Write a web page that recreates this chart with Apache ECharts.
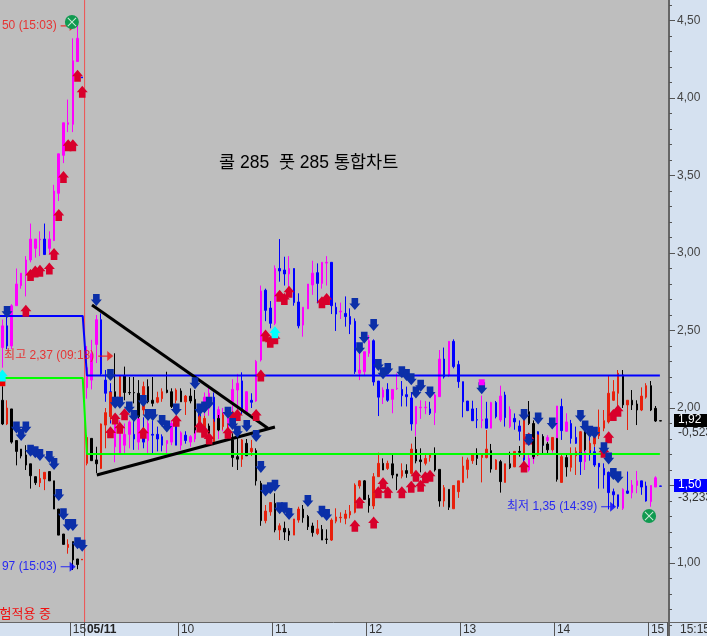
<!DOCTYPE html>
<html><head><meta charset="utf-8">
<style>html,body{margin:0;padding:0;background:#d5e1f0;overflow:hidden}#c{width:707px;height:636px}</style>
<script src="https://cdn.jsdelivr.net/npm/echarts@6/dist/echarts.min.js"></script>
</head><body><div id="c"></div>
<script>
// [open, close, low, high]
const callCandles=[[2.39,2.53,2.26,2.57],[2.53,2.40,2.38,2.60],[2.40,2.66,2.38,2.67],[2.66,2.80,2.66,2.90],[2.79,2.87,2.77,2.87],[2.86,2.955,2.72,2.98],[2.955,3.09,2.94,3.19],[3.03,3.09,2.97,3.09],[3.085,3.09,2.98,3.14],[3.09,2.99,2.99,3.19],[3.03,3.09,2.99,3.14],[3.08,3.40,3.08,3.44],[3.385,3.64,3.335,3.64],[3.63,3.84,3.58,3.84],[3.83,3.84,3.78,3.99],[3.83,4.24,3.78,4.385],[4.235,4.385,4.235,4.47],[4.135,4.13,4.13,4.135],
[2.13,2.26,2.06,2.40],[2.18,2.35,2.12,2.44],[2.41,2.57,2.29,2.60],[2.57,2.22,2.21,2.61],[2.18,2.095,2.04,2.245],[2.105,1.955,1.90,2.16],[1.75,1.92,1.65,1.93],[1.71,1.88,1.70,1.92],[1.76,1.83,1.71,1.90],[1.83,1.91,1.74,1.92],[1.83,1.80,1.73,1.92],[1.78,1.93,1.73,1.94],[1.84,1.78,1.74,1.94],[1.79,1.90,1.71,1.92],[1.83,1.825,1.70,1.92],[1.83,1.80,1.72,1.88],[1.815,1.76,1.72,1.83],[1.77,1.79,1.70,1.79],[1.78,1.90,1.76,1.92],[1.885,1.76,1.76,1.92],[1.76,1.84,1.73,1.85],[1.825,1.79,1.77,1.85],[1.78,1.815,1.75,1.825],[1.80,1.90,1.78,1.95],[1.98,1.90,1.86,2.02],[1.99,2.07,1.93,2.10],[2.03,2.095,1.95,2.14],[2.07,1.86,1.80,2.10],[1.86,1.99,1.80,2.01],[1.92,1.97,1.85,2.00],[1.87,1.94,1.82,1.98],
[2.04,2.12,1.98,2.185],[2.116,2.16,1.97,2.22],[2.175,1.99,1.96,2.23],[1.976,2.105,1.97,2.11],[2.05,2.037,2.0,2.095],[2.045,2.30,2.04,2.31],[2.31,2.755,2.30,2.79],[2.76,2.63,2.56,2.77],[2.645,2.546,2.514,2.69],[2.546,2.90,2.535,2.92],[2.90,2.884,2.815,3.09],[2.89,2.865,2.79,2.976],[2.865,2.90,2.78,2.98],[2.90,2.68,2.66,2.90],[2.684,2.53,2.514,2.74],[2.535,2.65,2.46,2.65],[2.64,2.80,2.64,2.80],[2.794,2.87,2.73,2.95],[2.873,2.804,2.675,2.933],[2.804,2.94,2.77,2.94],[2.935,2.94,2.79,2.98],[2.94,2.66,2.606,2.94],[2.65,2.606,2.497,2.68],[2.62,2.625,2.574,2.68],[2.61,2.59,2.525,2.72],[2.59,2.54,2.477,2.643],[2.56,2.234,2.22,2.578],[2.224,2.245,2.18,2.353],[2.234,2.363,2.206,2.363],[2.353,2.434,2.33,2.47],[2.434,2.168,2.144,2.443],[2.174,2.07,1.948,2.174],[2.07,2.116,2.026,2.133],[2.12,2.05,2.04,2.16],[2.056,2.12,1.966,2.12],[2.125,2.127,2.116,2.224],[2.12,2.08,2.01,2.174],[2.086,2.073,2.01,2.138],[2.065,1.897,1.854,2.10],[1.897,2.01,1.82,2.01],[2.002,2.005,1.93,2.05],[2.002,2.005,1.96,2.045],[1.994,1.966,1.955,2.04],[1.97,2.084,1.89,2.095],[2.073,2.316,2.073,2.374],[2.316,2.20,2.19,2.39],[2.21,2.43,2.20,2.43],[2.43,2.267,2.256,2.443],[2.28,2.17,2.13,2.305],[2.17,2.04,1.94,2.17],[2.045,1.983,1.98,2.045],
[1.994,1.918,1.916,2.047],[1.925,1.922,1.87,2.00],[1.92,1.925,1.87,2.08],[1.93,1.87,1.87,2.04],[1.87,2.035,1.87,2.04],[2.035,1.944,1.933,2.045],[1.923,2.077,1.91,2.144],[2.084,1.938,1.88,2.105],[1.88,1.99,1.87,2.01],[1.933,1.91,1.86,1.965],[1.884,1.85,1.79,1.92],[1.71,1.665,1.61,1.75],[1.60,1.675,1.59,1.70],[1.675,1.70,1.64,1.73],[1.847,1.70,1.69,1.85],[1.815,1.76,1.72,1.83],[1.79,1.81,1.72,1.825],[1.74,1.77,1.71,1.80],[1.804,2.013,1.71,2.013],[2.01,1.854,1.794,2.06],[1.85,1.91,1.847,1.966],[1.90,1.804,1.77,1.923],[1.81,1.772,1.768,1.88],[1.718,1.654,1.568,1.72],[1.654,1.718,1.60,1.76],[1.73,1.707,1.66,1.815],[1.718,1.632,1.62,1.75],[1.643,1.62,1.48,1.643],[1.61,1.568,1.48,1.643],[1.585,1.454,1.346,1.59],[1.46,1.44,1.363,1.48],[1.44,1.365,1.35,1.44],[1.353,1.475,1.342,1.482],[1.465,1.45,1.445,1.59],[1.454,1.503,1.417,1.535],[1.50,1.53,1.45,1.594],[1.53,1.49,1.44,1.53],[1.497,1.40,1.396,1.525],[1.396,1.50,1.363,1.50],[1.49,1.55,1.49,1.56],[1.497,1.495,1.495,1.497],'-'];

const putCandles=[[2.05,1.897,1.89,2.14],[1.897,2.0,1.89,2.05],[1.994,1.78,1.77,1.994],[1.79,1.72,1.63,1.79],[1.735,1.69,1.675,1.735],[1.697,1.632,1.60,1.76],[1.64,1.563,1.48,1.64],[1.557,1.518,1.503,1.557],[1.518,1.546,1.49,1.606],[1.542,1.585,1.47,1.585],[1.59,1.53,1.53,1.59],[1.53,1.348,1.348,1.53],[1.348,1.18,1.18,1.348],[1.187,1.12,1.12,1.187],[1.10,1.12,1.06,1.153],[1.138,1.02,0.955,1.138],[1.026,0.99,0.96,1.026],[1.02,1.024,1.02,1.024],
[1.643,1.81,1.63,1.825],[1.804,1.66,1.66,1.804],[1.665,1.64,1.58,1.75],[1.61,1.897,1.606,1.90],[1.89,1.97,1.74,2.0],[1.944,2.10,1.92,2.10],[2.105,2.06,2.01,2.353],[2.06,2.206,2.06,2.206],[2.206,2.10,2.05,2.267],[2.10,2.098,2.084,2.20],[2.10,2.098,2.03,2.20],[2.095,1.944,1.933,2.18],[1.987,2.138,1.955,2.17],[2.138,2.04,2.03,2.185],[2.05,2.03,2.01,2.20],[2.037,2.067,2.03,2.105],[2.06,2.105,2.04,2.127],[2.116,2.10,2.095,2.234],[2.105,2.01,2.0,2.127],[2.05,2.116,2.03,2.127],[2.11,2.04,2.04,2.127],[2.04,2.077,1.955,2.084],[2.077,2.045,2.03,2.127],[2.056,1.858,1.836,2.116],[1.88,1.944,1.86,1.96],[1.836,1.933,1.82,1.95],[1.884,1.826,1.80,1.90],[1.783,1.91,1.76,1.93],[1.933,1.858,1.85,1.955],[1.88,1.955,1.86,1.97],[1.836,1.858,1.80,1.90],
[1.794,1.68,1.62,1.837],[1.686,1.67,1.60,1.837],[1.67,1.794,1.62,1.80],[1.772,1.692,1.69,1.80],[1.718,1.74,1.69,1.794],[1.725,1.53,1.50,1.74],[1.514,1.273,1.24,1.53],[1.273,1.335,1.256,1.374],[1.33,1.39,1.305,1.39],[1.385,1.213,1.198,1.45],[1.213,1.24,1.148,1.256],[1.224,1.20,1.148,1.267],[1.206,1.18,1.142,1.224],[1.18,1.284,1.18,1.284],[1.277,1.348,1.26,1.363],[1.348,1.292,1.26,1.374],[1.30,1.234,1.213,1.31],[1.239,1.196,1.17,1.26],[1.19,1.22,1.18,1.277],[1.217,1.148,1.148,1.245],[1.155,1.152,1.123,1.217],[1.148,1.277,1.142,1.288],[1.27,1.297,1.256,1.353],[1.292,1.295,1.26,1.327],[1.288,1.316,1.25,1.342],[1.31,1.333,1.288,1.374],[1.327,1.503,1.32,1.514],[1.497,1.53,1.48,1.535],[1.53,1.41,1.41,1.535],[1.417,1.37,1.325,1.44],[1.368,1.557,1.348,1.58],[1.557,1.643,1.557,1.712],[1.643,1.60,1.60,1.675],[1.61,1.643,1.60,1.66],[1.64,1.568,1.546,1.70],[1.574,1.56,1.47,1.574],[1.56,1.596,1.546,1.643],[1.596,1.578,1.55,1.637],[1.578,1.735,1.57,1.77],[1.733,1.658,1.643,1.815],[1.665,1.654,1.585,1.74],[1.643,1.675,1.63,1.70],[1.68,1.697,1.654,1.70],[1.697,1.60,1.59,1.746],[1.604,1.40,1.363,1.604],[1.40,1.486,1.363,1.503],[1.475,1.36,1.342,1.475],[1.35,1.50,1.35,1.50],[1.46,1.53,1.42,1.53],[1.52,1.626,1.52,1.686],[1.604,1.665,1.546,1.68],
[1.66,1.697,1.64,1.70],[1.697,1.675,1.632,1.74],[1.68,1.70,1.52,1.707],[1.68,1.735,1.675,1.858],[1.725,1.606,1.583,1.768],[1.604,1.665,1.60,1.67],[1.654,1.525,1.454,1.665],[1.52,1.64,1.52,1.64],[1.64,1.615,1.606,1.718],[1.62,1.72,1.62,1.72],[1.72,1.714,1.686,1.755],[1.707,1.923,1.68,1.987],[1.976,1.90,1.89,2.045],[1.90,1.686,1.67,1.92],[1.697,1.826,1.69,1.83],[1.815,1.76,1.707,1.83],[1.768,1.73,1.707,1.78],[1.73,1.81,1.72,1.81],[1.804,1.54,1.525,1.804],[1.52,1.686,1.52,1.70],[1.68,1.62,1.557,1.697],[1.617,1.697,1.59,1.746],[1.692,1.72,1.568,1.746],[1.718,1.847,1.71,1.85],[1.85,1.73,1.72,1.88],[1.73,1.772,1.70,1.79],[1.768,1.815,1.75,1.83],[1.82,1.875,1.80,1.99],[1.87,1.918,1.85,1.987],[1.91,2.095,1.90,2.21],[2.05,2.105,2.045,2.18],[2.095,2.224,2.013,2.245],[2.213,2.02,2.0,2.245],[2.02,2.05,1.858,2.05],[2.05,2.02,1.987,2.116],[2.026,1.987,1.89,2.05],[1.987,2.077,1.98,2.133],[2.07,2.144,2.06,2.16],[2.144,1.987,1.98,2.174],[1.998,1.916,1.91,2.013],[1.918,1.916,1.916,1.918],'-'];

// [bar index, price]
const upArrows=[[5,2.628],[6,2.858],[7,2.88],[8,2.886],[10,2.90],[11,2.994],[12,3.245],[13,3.49],[14,3.695],[15,3.695],[16,4.144],[17,4.04],
[23,1.843],[24,1.933],[25,1.873],[26,1.96],[30,1.841],[37,1.918],[42,1.88],[43,1.847],[44,1.804],[48,1.841],[49,1.944],[50,1.955],[54,1.955],[55,2.209],[56,2.467],[57,2.428],[58,2.45],[59,2.725],[60,2.703],[61,2.75],[68,2.682],[69,2.703],
[75,1.24],[76,1.391],[79,1.262],[80,1.456],[81,1.514],[82,1.456],[85,1.456],[87,1.492],[88,1.563],[89,1.499],[90,1.553],[91,1.563],
[111,1.622],[112,1.804],[128,1.718],[129,1.811],[130,1.955],[131,1.983]];
const downArrows=[[1,2.62],[20,2.697],[3,1.875],[5,1.875],[4,1.826],[6,1.725],[7,1.714],[8,1.697],[10,1.684],[11,1.639],[12,1.439],[13,1.314],[14,1.245],[15,1.245],[16,1.127],[17,1.112],
[23,2.213],[24,2.034],[25,2.034],[27,2.004],[28,1.948],[30,2.045],[31,1.955],[32,1.955],[34,1.916],[35,1.88],[37,1.99],[41,2.16],[42,1.99],[43,2.004],[44,2.034],[48,1.97],[49,1.897],[50,1.847],[52,1.884],[54,1.82],[55,1.62],[56,1.467],[57,1.482],[58,1.499],[59,1.353],[60,1.353],[61,1.316],[65,1.40],[68,1.331],[69,1.31],
[75,2.671],[76,2.385],[77,2.454],[79,2.535],[80,2.277],[81,2.224],[82,2.252],[85,2.23],[86,2.213],[87,2.185],[88,2.10],[89,2.144],[91,2.10],
[102,2.127],[111,1.955],[112,1.794],[114,1.933],[117,1.90],[123,1.948],[124,1.88],[125,1.847],[126,1.841],[128,1.74],[129,1.675],[130,1.574],[131,1.553]];
const cyanArrows=[[0,2.209],[58,2.488]];
const redSquares=[[0,2.16]];
const pinkSquares=[[102,2.166]];
const greenMarks=[[15.3,4.49],[138.1,1.303]];

const blueLevel=[[0,2.594],[17.6,2.594],[18.5,2.21],[140.4,2.21]];
const greenLevel=[[0,2.194],[17.6,2.194],[18.5,1.703],[140.4,1.703]];
const trendUpper=[[19.57,2.665],[57.0,1.87]];
const trendLower=[[20.6,1.568],[58.5,1.877]];
const dayStart=18;

const redNotes=[{i:14,v:4.465,text:'50 (15:03)'},{i:22,v:2.335,text:'최고 2,37 (09:18)'}];
const blueNotes=[{i:14,v:0.976,text:'97 (15:03)'},{i:129,v:1.363,text:'최저 1,35 (14:39)'}];

const timeLabels={15:'15',18:'05/11',38:'10',58:'11',78:'12',98:'13',118:'14',138:'15'};
const chartTitle='콜 285  풋 285 통합차트';

const categories=callCandles.map((_,i)=>String(i));
const FONT='"Liberation Sans","Noto Sans CJK KR",sans-serif';
const YMIN=0.619,YMAX=4.632;
const UP='path://M5 0L10 6L8 6L8 11L2 11L2 6L0 6Z';
const DOWN='path://M2 0L8 0L8 5L10 5L5 11L0 5L2 5Z';
const RIGHT='path://M0 5.3L9 5.3L9 0L15 6L9 12L9 6.7L0 6.7Z';
const X='path://M0 1L1 0L6 5L11 0L12 1L7 6L12 11L11 12L6 7L1 12L0 11L5 6Z';

const scatter=(name,data,symbol,size,color,z)=>({name,type:'scatter',data,symbol,symbolSize:size,itemStyle:{color,opacity:1},z,silent:true,clip:false});
const note=(name,items,color)=>({name,type:'scatter',symbol:RIGHT,symbolSize:[15,10],itemStyle:{color},z:7,silent:true,
  data:items.map(n=>({value:[n.i,n.v],label:{show:true,position:'left',distance:4,formatter:n.text,color,fontFamily:FONT,fontSize:12}}))});
const candle=(name,data,up,down,z)=>({name,type:'candlestick',data,barWidth:2,z,silent:true,
  itemStyle:{color:up,color0:down,borderColor:up,borderColor0:down,borderColorDoji:up,borderWidth:1}});
const seg=(name,data,color,width,z)=>({name,type:'line',xAxisIndex:1,data,showSymbol:false,lineStyle:{color,width},z,silent:true});

const chart=echarts.init(document.getElementById('c'),null,{renderer:'canvas'});
chart.setOption({
 animation:false,backgroundColor:'#d5e1f0',
 grid:{left:0,top:-57,width:667.4,height:697.5,show:false,outerBoundsMode:'none',containLabel:false},
 xAxis:[{type:'category',data:categories,boundaryGap:true,offset:-18.5,
   axisLine:{onZero:false,lineStyle:{color:'#666',width:1}},
   axisTick:{show:true,length:14,interval:i=>timeLabels[i]!==undefined,lineStyle:{color:'#555'}},
   axisLabel:{interval:0,align:'left',margin:2,fontFamily:FONT,fontSize:12,color:'#333',hideOverlap:false,
     formatter:(v,i)=>timeLabels[i]===undefined?'':(timeLabels[i].includes('/')?'{b|'+timeLabels[i]+'}':timeLabels[i]),
     rich:{b:{fontWeight:'bold',fontSize:12,fontFamily:FONT,color:'#222'}}},
   splitLine:{show:false}},
  {type:'value',min:0,max:142,show:false}],
 yAxis:[{type:'value',position:'right',offset:1.6,min:0.5,max:5,interval:0.5,splitLine:{show:false},
   axisLine:{show:true,onZero:false,lineStyle:{color:'#666',width:2}},
   axisTick:{show:true,length:6,lineStyle:{color:'#555'}},
   minorTick:{show:true,splitNumber:5,length:3,lineStyle:{color:'#555'}},minorSplitLine:{show:false},
   axisLabel:{margin:8,padding:[3,0,0,0],showMinLabel:false,showMaxLabel:false,fontFamily:FONT,fontSize:12,color:'#444',
     formatter:v=>(v<1||v>4.5)?'':v.toFixed(2).replace('.',',')}}],
 series:[
  seg('세션',[[dayStart,YMIN],[dayStart,YMAX]],'#f05050',1,1),
  candle('콜',callCandles,'#ff00ff','#0000ff',2),
  candle('풋',putCandles,'#e8200c','#000000',3),
  seg('콜 기준',blueLevel,'#0000ff',2,4),
  seg('풋 기준',greenLevel,'#00ff00',2,4),
  seg('추세상단',trendUpper,'#000',3,5),
  seg('추세하단',trendLower,'#000',3,5),
  scatter('매수',upArrows,UP,[11,12],'#d8002b',6),
  scatter('매도',downArrows,DOWN,[11,12],'#0b2fa8',6),
  scatter('적',redSquares,'rect',[6,6],'#f00000',6),
  scatter('분',pinkSquares,'rect',[6,6],'#ff00ff',6),
  scatter('시그널',cyanArrows,UP,[11,12],'#00ffff',8),
  note('고가',redNotes,'#f01010'),
  note('저가',blueNotes,'#0000ff'),
  Object.assign(scatter('청산',greenMarks,'circle',14,'#109a50',9),{xAxisIndex:1}),
  Object.assign(scatter('청산X',greenMarks,X,9,'#c8e8d4',10),{xAxisIndex:1})
 ],
 graphic:[
  {type:'rect',z:-1,shape:{x:0,y:0,width:668,height:622},style:{fill:'#bebebe'}},
  {type:'rect',z:-1,shape:{x:668,y:622,width:39,height:1},style:{fill:'#666'}},
  {type:'text',x:219,y:154,style:{text:chartTitle,font:'17.5px '+FONT,fill:'#000'},z:20},
  {type:'text',x:-12.5,y:608,style:{text:'시험적용 중',font:'13px '+FONT,fill:'#f01010'},z:20},
  {type:'text',x:680,y:624,style:{text:'15:15',font:'12px '+FONT,fill:'#333'},z:20},
  {type:'rect',shape:{x:674,y:414,width:33,height:13},style:{fill:'#000'},z:20},
  {type:'text',x:678,y:414,style:{text:'1,92',font:'12px '+FONT,fill:'#fff'},z:21},
  {type:'text',x:678,y:427,style:{text:'-0,523',font:'12px '+FONT,fill:'#333'},z:21},
  {type:'rect',shape:{x:674,y:479,width:33,height:13},style:{fill:'#0000ff'},z:20},
  {type:'text',x:678,y:479,style:{text:'1,50',font:'12px '+FONT,fill:'#fff'},z:21},
  {type:'text',x:678,y:492,style:{text:'-3,233',font:'12px '+FONT,fill:'#333'},z:21}
 ]
});
</script></body></html>
